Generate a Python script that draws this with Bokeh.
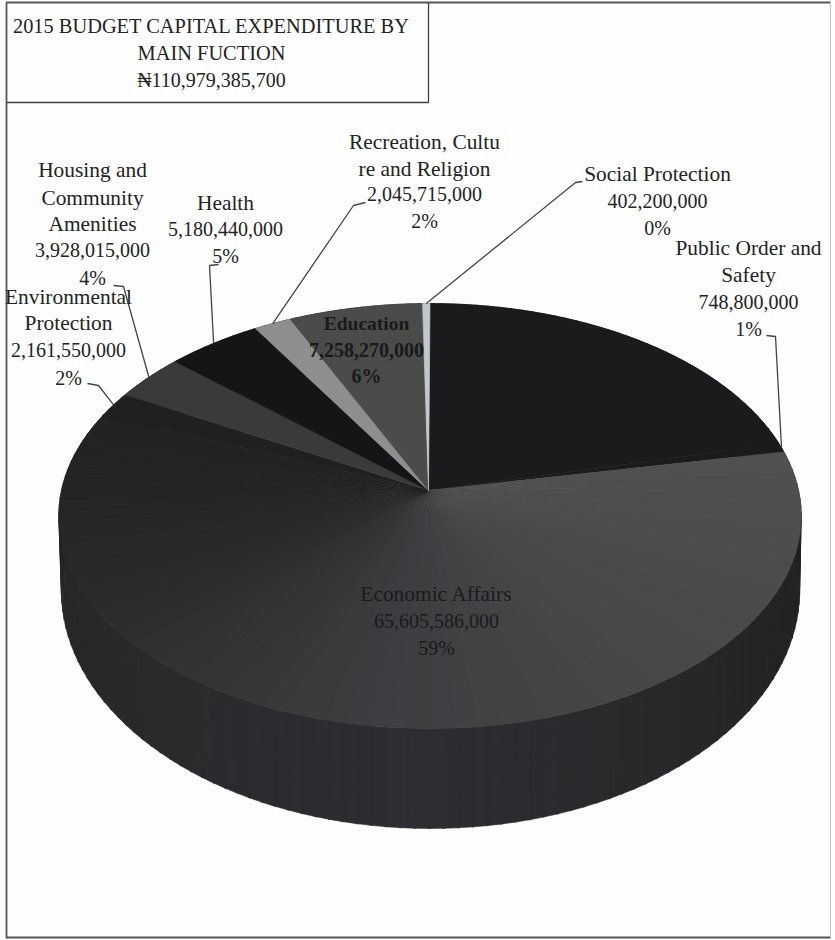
import math

from bokeh.core.properties import value
from bokeh.embed import file_html
from bokeh.models import Range1d
from bokeh.plotting import figure
from bokeh.resources import INLINE

TITLE_LINES = ["2015 BUDGET CAPITAL EXPENDITURE BY", "MAIN FUCTION", "\u20a6110,979,385,700"]

# Slices in clockwise order from twelve o'clock.
categories = [
    "Unlabelled", "Public Order and Safety", "Economic Affairs",
    "Environmental Protection", "Housing and Community Amenities", "Health",
    "Recreation, Culture and Religion", "Education", "Social Protection",
]
amounts = [
    23648809700, 748800000, 65605586000, 2161550000, 3928015000,
    5180440000, 2045715000, 7258270000, 402200000,
]
percent_labels = ["", "1%", "59%", "2%", "4%", "5%", "2%", "6%", "0%"]
slice_colors = [
    "#1b1b1e", "#1b1b1e", None, "#202021", "#3a3a3a",
    "#151517", "#8e8e8e", "#4b4b49", "#c2c7cc",
]

FONT = value("Liberation Serif")
INK = "#232323"
WORD_PX = "21.4px"
NUMBER_PX = "20px"

HUB = (428, 490)


# Oblique view of the disc: one projective map for the upper rim, one for the lower.
W = 0.12
def top_rim(theta):
    u, v = math.sin(theta), math.cos(theta)
    d = 1 + W * v
    return 429.5 + 368.5 * u / d, 490 - 209.4 * v / d

def bottom_rim(theta):
    u, v = math.sin(theta), math.cos(theta)
    d = 1 + W * v
    return 430 + 366.5 * u / d, 561.4 - 234.6 * v / d

def hex_mix(stops, t):
    # Piecewise-linear blend between (position, (r, g, b)) stops.
    for (t0, c0), (t1, c1) in zip(stops, stops[1:]):
        if t <= t1:
            k = (t - t0) / (t1 - t0)
            return "#%02x%02x%02x" % tuple(round(a + (b - a) * k) for a, b in zip(c0, c1))
    return "#%02x%02x%02x" % stops[-1][1]


total = sum(amounts)
edges = [0.0]
for amount in amounts:
    edges.append(edges[-1] + 2 * math.pi * amount / total)

p = figure(width=835, height=940, output_backend="svg", toolbar_location=None,
           x_range=Range1d(0, 835), y_range=Range1d(940, 0),
           min_border=0, background_fill_color="#fefefe", border_fill_color="#fefefe",
           outline_line_color=None)
p.axis.visible = False
p.grid.visible = False

# Side wall of the disc, as a ruled band between the two rims.
WALL_STOPS = [
    (0.0, (32, 30, 29)), (0.25, (32, 30, 29)), (0.5, (46, 45, 50)),
    (0.75, (37, 37, 37)), (1.0, (32, 30, 29)),
]
wall_xs, wall_ys, wall_cols = [], [], []
STEPS = 180
for i in range(STEPS):
    a0, a1 = 2 * math.pi * i / STEPS, 2 * math.pi * (i + 1.15) / STEPS
    quad = [top_rim(a0), top_rim(a1), bottom_rim(a1), bottom_rim(a0)]
    wall_xs.append([q[0] for q in quad])
    wall_ys.append([q[1] for q in quad])
    wall_cols.append(hex_mix(WALL_STOPS, i / STEPS))
p.patches(wall_xs, wall_ys, fill_color=wall_cols, line_color=wall_cols, line_width=0.6)

# Top face; the largest slice fades across its sweep.
FACE_STOPS = [
    (0.0, (80, 80, 80)), (0.3, (72, 72, 73)), (0.5, (62, 61, 65)),
    (0.75, (43, 42, 43)), (1.0, (33, 33, 34)),
]
xs, ys, cols = [], [], []
for idx, color in enumerate(slice_colors):
    start, end = edges[idx], edges[idx + 1]
    if color is None:
        n = 70
        for j in range(n):
            a0 = start + (end - start) * j / n
            a1 = start + (end - start) * min(j + 1.1, n) / n
            pts = [top_rim(a0 + (a1 - a0) * k / 4) for k in range(5)]
            xs.append([HUB[0]] + [q[0] for q in pts])
            ys.append([HUB[1]] + [q[1] for q in pts])
            cols.append(hex_mix(FACE_STOPS, j / n))
    else:
        n = max(3, int((end - start) * 60))
        pts = [top_rim(start + (end - start) * k / n) for k in range(n + 1)]
        xs.append([HUB[0]] + [q[0] for q in pts])
        ys.append([HUB[1]] + [q[1] for q in pts])
        cols.append(color)
p.patches(xs, ys, fill_color=cols, line_color=cols, line_width=0.6)

# Page frame and title box.
frame_color = "#555555"
p.line([6, 6, 830], [938, 2, 2], line_color=frame_color, line_width=1.8)
p.line([6, 830], [937, 937], line_color=frame_color, line_width=1.8)
p.line([830, 830], [2, 937], line_color="#c4c4c4", line_width=1)
p.line([428, 428, 6], [2, 102, 102], line_color="#3f3f3f", line_width=1.3)


def centre_of(idx):
    return top_rim((edges[idx] + edges[idx + 1]) / 2)


# Leader lines run from beside each label to the middle of its slice's rim.
leaders = [
    (3, [(87, 383), (98, 385)]),
    (4, [(113, 285), (123, 286)]),
    (5, [(218, 264), (209, 265)]),
    (6, [(365, 202), (353, 205)]),
    (8, [(582, 181), (575, 182)]),
    (1, [(766, 335), (775, 336)]),
]
for idx, knots in leaders:
    path = knots + [centre_of(idx)]
    p.line([q[0] for q in path], [q[1] for q in path], line_color="#444444", line_width=1.3)


def amount_text(idx):
    return f"{amounts[idx]:,}"


def draw_lines(lines, cx, ys_, sizes=None, color=INK, style="normal"):
    if sizes is None:
        sizes = [NUMBER_PX if any(c.isdigit() for c in s) else WORD_PX for s in lines]
    p.text([cx] * len(lines), ys_, text=lines, text_font=FONT, text_font_size=sizes,
           text_align="center", text_baseline="middle", text_color=color,
           text_font_style=style)


draw_lines(TITLE_LINES, 211, [25, 52, 79], sizes=["20.4px", "20.4px", "20px"])
draw_lines(["Housing and", "Community", "Amenities", amount_text(4), percent_labels[4]],
           92, [169, 197, 223, 249, 277])
draw_lines(["Environmental", "Protection", amount_text(3), percent_labels[3]],
           68, [296, 322, 349, 377])
draw_lines(["Health", amount_text(5), percent_labels[5]], 225, [202, 228, 255])
draw_lines(["Recreation, Cultu", "re and Religion", amount_text(6), percent_labels[6]],
           424, [141, 168, 193, 220])
draw_lines(["Social Protection", amount_text(8), percent_labels[8]], 657, [173, 200, 227])
draw_lines(["Public Order and", "Safety", amount_text(1), percent_labels[1]],
           748, [247, 274, 301, 328])
draw_lines(["Education", amount_text(7), percent_labels[7]], 366, [323, 349, 375],
           sizes=["19.5px", "20px", "20px"], color="#19191b", style="bold")
draw_lines(["Economic Affairs", amount_text(2), percent_labels[2]], 436, [593, 620, 647],
           color="#1a1a1e")

open("out.html", "w").write(file_html(p, INLINE))
